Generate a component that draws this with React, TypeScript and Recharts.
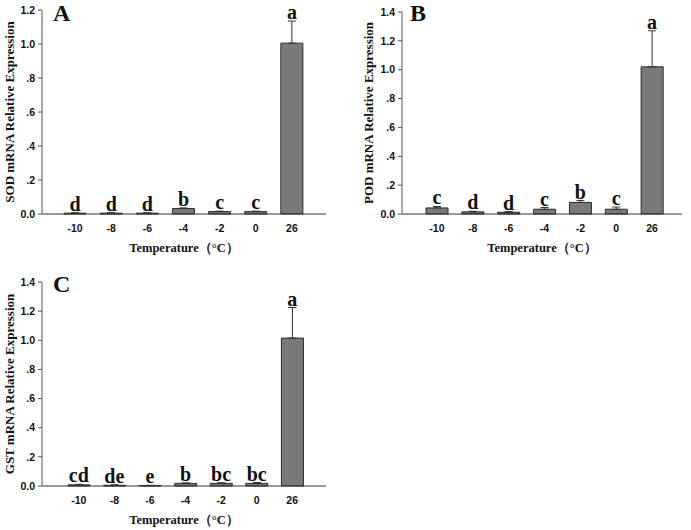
import { Bar, ComposedChart, ErrorBar, LabelList, Line, XAxis, YAxis } from 'recharts'

const temps = ['-10', '-8', '-6', '-4', '-2', '0', '26']

const sodMean = [0.005, 0.005, 0.005, 0.032, 0.014, 0.014, 1.005]
const sodErr = [0.003, 0.003, 0.002, 0.004, 0.003, 0.003, 0.13]
const sodSig = ['d', 'd', 'd', 'b', 'c', 'c', 'a']

const podMean = [0.042, 0.015, 0.012, 0.033, 0.08, 0.033, 1.02]
const podErr = [0.01, 0.004, 0.005, 0.012, 0.013, 0.015, 0.25]
const podSig = ['c', 'd', 'd', 'c', 'b', 'c', 'a']

const gstMean = [0.008, 0.005, 0.003, 0.018, 0.018, 0.018, 1.015]
const gstErr = [0.003, 0.003, 0.002, 0.003, 0.004, 0.006, 0.21]
const gstSig = ['cd', 'de', 'e', 'b', 'bc', 'bc', 'a']

const ticks12 = [0, 0.2, 0.4, 0.6, 0.8, 1.0, 1.2]
const ticks14 = [0, 0.2, 0.4, 0.6, 0.8, 1.0, 1.2, 1.4]

const serif = '"Liberation Serif", "Times New Roman", serif'
const sans = '"Liberation Sans", Arial, sans-serif'

const fmt = (v: number) => {
  if (v === 0) return '0.0'
  const s = v.toFixed(1)
  return v < 1 ? s.replace(/^0/, '') : s
}

const buildRows = (mean: number[], err: number[], sig: string[]) =>
  temps.map((t, i) => ({
    t,
    mean: mean[i],
    err: [0, err[i]],
    top: mean[i] + err[i],
    sig: sig[i]
  }))

type PanelProps = {
  letter: string
  yTitle: string
  mean: number[]
  err: number[]
  sig: string[]
  ticks: number[]
  width: number
  margin: { top: number; right: number }
  yWidth: number
  xHeight: number
  pad: { left: number; right: number }
  titleDx: number
  letterPos: { left: number; top: number }
  left: number
  top: number
}

const Panel = (p: PanelProps) => {
  const rows = buildRows(p.mean, p.err, p.sig)
  const yLabel = (props: any) => {
    const vb = props.viewBox
    const cx = vb.x + p.titleDx
    const cy = vb.y + vb.height / 2
    return (
      <text
        x={cx}
        y={cy}
        transform={`rotate(-90 ${cx} ${cy})`}
        textAnchor="middle"
        dominantBaseline="central"
        fontFamily={serif}
        fontWeight="bold"
        fontSize={13}
        fill="#111"
      >
        {p.yTitle}
      </text>
    )
  }
  const xLabel = (props: any) => {
    const vb = props.viewBox
    return (
      <text
        x={vb.x + vb.width / 2}
        y={vb.y + 34}
        textAnchor="middle"
        dominantBaseline="central"
        fontFamily={serif}
        fontWeight="bold"
        fontSize={12.5}
        fill="#111"
      >
        Temperature（°C）
      </text>
    )
  }
  return (
    <div style={{ position: 'absolute', left: p.left, top: p.top, width: p.width, height: 265 }}>
      <ComposedChart
        width={p.width}
        height={265}
        data={rows}
        margin={{ top: p.margin.top, right: p.margin.right, bottom: 0, left: 0 }}
      >
        <XAxis
          dataKey="t"
          height={p.xHeight}
          padding={p.pad}
          tickLine={false}
          tickSize={0}
          tickMargin={11}
          axisLine={{ stroke: '#333' }}
          tick={{ fontFamily: sans, fontWeight: 'bold', fontSize: 10.5, fill: '#111' }}
          label={{ content: xLabel }}
        />
        <YAxis
          width={p.yWidth}
          domain={[0, p.ticks[p.ticks.length - 1]]}
          ticks={p.ticks}
          tickFormatter={fmt}
          tickSize={4}
          tickMargin={3}
          axisLine={{ stroke: '#555' }}
          tickLine={{ stroke: '#555' }}
          tick={{ fontFamily: sans, fontWeight: 'bold', fontSize: 10.5, fill: '#111' }}
          label={{ content: yLabel }}
        />
        <Bar dataKey="mean" barSize={22} fill="#7a7a7a" stroke="#2a2a2a" strokeWidth={1} isAnimationActive={false}>
          <ErrorBar dataKey="err" width={4} stroke="#333" strokeWidth={1} direction="y" />
        </Bar>
        <Line dataKey="top" stroke="none" dot={false} activeDot={false} isAnimationActive={false}>
          <LabelList
            dataKey="sig"
            position="top"
            offset={2}
            style={{ fontFamily: serif, fontWeight: 'bold', fontSize: 20, fill: '#111' }}
          />
        </Line>
      </ComposedChart>
      <div
        style={{
          position: 'absolute',
          left: p.letterPos.left,
          top: p.letterPos.top,
          fontFamily: serif,
          fontWeight: 'bold',
          fontSize: 24,
          lineHeight: '24px',
          color: '#111'
        }}
      >
        {p.letter}
      </div>
    </div>
  )
}

export default function App() {
  return (
    <div style={{ position: 'absolute', left: 0, top: 0, width: 691, height: 530, background: '#fff' }}>
      <Panel
        letter="A"
        yTitle="SOD mRNA Relative Expression"
        mean={sodMean}
        err={sodErr}
        sig={sodSig}
        ticks={ticks12}
        width={345}
        margin={{ top: 10, right: 19 }}
        yWidth={42}
        xHeight={51}
        pad={{ left: 15, right: 16 }}
        titleDx={9}
        letterPos={{ left: 53, top: 1 }}
        left={0}
        top={0}
      />
      <Panel
        letter="B"
        yTitle="POD mRNA Relative Expression"
        mean={podMean}
        err={podErr}
        sig={podSig}
        ticks={ticks14}
        width={346}
        margin={{ top: 12, right: 9 }}
        yWidth={57}
        xHeight={51}
        pad={{ left: 17, right: 12 }}
        titleDx={23}
        letterPos={{ left: 65, top: 1 }}
        left={345}
        top={0}
      />
      <Panel
        letter="C"
        yTitle="GST mRNA Relative Expression"
        mean={gstMean}
        err={gstErr}
        sig={gstSig}
        ticks={ticks14}
        width={345}
        margin={{ top: 17, right: 19 }}
        yWidth={42}
        xHeight={44}
        pad={{ left: 19, right: 16 }}
        titleDx={9}
        letterPos={{ left: 53, top: 7 }}
        left={0}
        top={265}
      />
    </div>
  )
}
